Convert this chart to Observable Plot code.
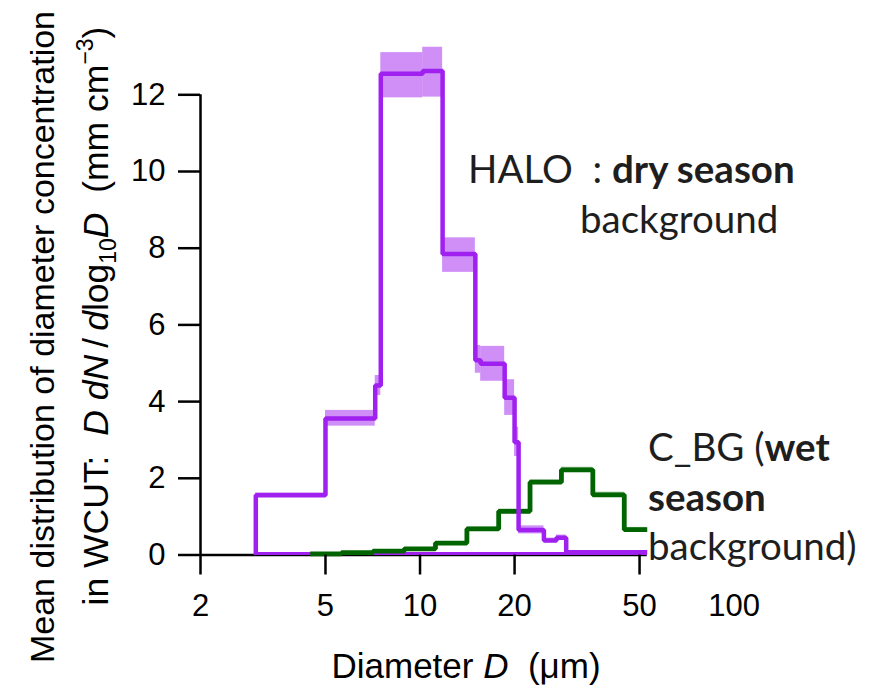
<!DOCTYPE html>
<html>
<head>
<meta charset="utf-8">
<script src="https://cdn.jsdelivr.net/npm/d3@7"></script>
<script src="https://cdn.jsdelivr.net/npm/@observablehq/plot@0.6"></script>
<style>
  html, body { margin: 0; padding: 0; background: #fff; }
  #chart svg { display: block; }
</style>
</head>
<body>
<div id="chart"></div>
<script>
// ---- data ----
const xTicks = [2, 5, 10, 20, 50];
const xExtraTicks = [100];
const yTicks = [0, 2, 4, 6, 8, 10, 12];

// HALO dry-season background (purple), bin edges in µm
const haloEdges = [3.0, 5.0, 7.2, 7.5, 10.2, 11.8, 15.0, 15.6, 18.6, 20.0, 20.6, 24.8, 27.2, 29.2, 52.9];
const haloMean  = [1.56, 3.56, 4.42, 12.55, 12.62, 7.85, 5.08, 4.99, 4.10, 2.94, 0.65, 0.38, 0.45, 0.07];
const haloLow   = [1.50, 3.36, 4.16, 11.92, 11.94, 7.37, 4.74, 4.53, 3.64, 2.57, 0.55, 0.33, 0.38, 0.04];
const haloHigh  = [1.62, 3.77, 4.68, 13.10, 13.24, 8.27, 5.46, 5.44, 4.57, 3.33, 0.76, 0.44, 0.52, 0.09];
const haloFloor = [0.04];

// C_BG wet-season background (green)
const cbgEdges = [4.47, 5.62, 7.08, 8.91, 11.2, 14.1, 17.8, 22.4, 28.2, 35.5, 44.7, 52.9];
const cbgMean  = [0.03, 0.06, 0.10, 0.16, 0.31, 0.68, 1.14, 1.90, 2.22, 1.57, 0.66];
const cbgLow   = [0.01, 0.04, 0.08, 0.13, 0.27, 0.63, 1.08, 1.84, 2.15, 1.50, 0.60];
const cbgHigh  = [0.05, 0.08, 0.12, 0.19, 0.35, 0.73, 1.20, 1.96, 2.29, 1.64, 0.72];

// ---- helpers to build tables ----
function stepRows(edges, vals, fromZero) {
  const rows = [];
  if (fromZero) rows.push({x: edges[0], y: 0});
  vals.forEach((v, i) => rows.push({x: edges[i], y: v}));
  rows.push({x: edges[edges.length - 1], y: vals[vals.length - 1]});
  return rows;
}
function bandRows(edges, lo, hi) {
  return lo.map((l, i) => ({x1: edges[i], x2: edges[i + 1], y1: l, y2: hi[i]}));
}

const purple = "#a020f0";
const green = "#006400";
const xEnd = haloEdges[haloEdges.length - 1];
const axisFont = "'Liberation Sans', Arial, sans-serif";
const noteFont = "Lato, 'Open Sans', sans-serif";

const svg = Plot.plot({
  width: 889,
  height: 685,
  marginLeft: 200,
  marginRight: 155.4,
  marginTop: 94.3,
  marginBottom: 130.5,
  style: {fontFamily: axisFont, fontSize: "31px", color: "black", background: "white"},
  x: {type: "log", domain: [2, 100]},
  y: {domain: [0, 12]},
  marks: [
    Plot.rect(bandRows(haloEdges, haloLow, haloHigh), {x1: "x1", x2: "x2", y1: "y1", y2: "y2", fill: purple, fillOpacity: 0.5}),
    Plot.rect(bandRows(cbgEdges, cbgLow, cbgHigh), {x1: "x1", x2: "x2", y1: "y1", y2: "y2", fill: green, fillOpacity: 0.35}),
    Plot.ruleY([0], {x1: xTicks[0], x2: xEnd, stroke: "black", strokeWidth: 2.5}),
    Plot.ruleX([xTicks[0]], {y1: yTicks[0], y2: yTicks[yTicks.length - 1], stroke: "black", strokeWidth: 2.5}),
    Plot.ruleY(haloFloor, {x1: haloEdges[0], x2: xEnd, stroke: purple, strokeWidth: 3}),
    Plot.line(stepRows(cbgEdges, cbgMean, false), {x: "x", y: "y", curve: "step-after", stroke: green, strokeWidth: 4.8, strokeLinejoin: "miter", strokeLinecap: "butt"}),
    Plot.line(stepRows(haloEdges, haloMean, true), {x: "x", y: "y", curve: "step-after", stroke: purple, strokeWidth: 4.5, strokeLinejoin: "miter", strokeLinecap: "butt"}),
    Plot.axisY({ticks: yTicks, tickSize: 22, tickPadding: 13, strokeWidth: 2.5, label: null, fontSize: 31}),
    Plot.axisX({ticks: xTicks, tickSize: 20, tickPadding: 19, strokeWidth: 2.5, label: null, fontSize: 31, tickFormat: d => String(d)}),
    Plot.axisX({ticks: xExtraTicks, tickSize: 0, tickPadding: 39, label: null, fontSize: 31, tickFormat: d => String(d)})
  ]
});

document.getElementById("chart").appendChild(svg);

const s = d3.select(svg);

// x-axis title
const xt = s.append("text")
  .attr("x", 466).attr("y", 678)
  .attr("text-anchor", "middle")
  .attr("font-family", axisFont).attr("font-size", 35).attr("fill", "black");
xt.append("tspan").text("Diameter ");
xt.append("tspan").attr("font-style", "italic").text("D");
xt.append("tspan").text("  (μm)");

// y-axis title, two lines
s.append("text")
  .attr("transform", "translate(54,337) rotate(-90)")
  .attr("text-anchor", "middle")
  .attr("font-family", axisFont).attr("font-size", 34).attr("fill", "black")
  .text("Mean distribution of diameter concentration");

const y2 = s.append("text")
  .attr("transform", "translate(108,316) rotate(-90)")
  .attr("text-anchor", "middle")
  .attr("font-family", axisFont).attr("font-size", 35.5).attr("fill", "black");
y2.append("tspan").text("in WCUT:  ");
y2.append("tspan").attr("font-style", "italic").text("D dN");
y2.append("tspan").text("\u2009/\u2009");
y2.append("tspan").attr("font-style", "italic").text("d");
y2.append("tspan").text("log");
y2.append("tspan").attr("font-size", 23).attr("dy", 8).text("10");
y2.append("tspan").attr("font-style", "italic").attr("dy", -8).text("D");
y2.append("tspan").text("  (mm cm");
y2.append("tspan").attr("font-size", 23).attr("dy", -15).text("−3");
y2.append("tspan").attr("dy", 15).text(")");

// annotations
function note(x, y, parts) {
  const t = s.append("text").attr("x", x).attr("y", y)
    .attr("text-anchor", "start")
    .attr("font-family", noteFont).attr("font-size", 38.5).attr("fill", "#1e1e1e");
  parts.forEach(([txt, bold]) => t.append("tspan").attr("font-weight", bold ? "bold" : "normal").text(txt));
}
note(468, 183, [["HALO  : ", false], ["dry season", true]]);
note(580, 233, [["background", false]]);
note(648, 461, [["C_BG (", false], ["wet", true]]);
note(648, 511, [["season", true]]);
note(648, 560, [["background)", false]]);
</script>
</body>
</html>
